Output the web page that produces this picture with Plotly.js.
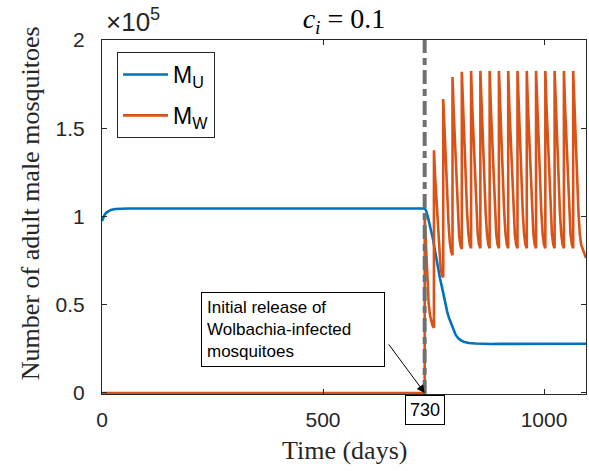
<!DOCTYPE html>
<html>
<head>
<meta charset="utf-8">
<script src="https://cdn.plot.ly/plotly-3.0.1.min.js"></script>
<style>html,body{margin:0;padding:0;background:#fff;}#chart{width:589px;height:471px;}</style>
</head>
<body>
<div id="chart"></div>
<script>
// Values in units of 10^5 mosquitoes (as the axis shows)
const releaseDay = 730;
const xTicks = [0, 500, 1000];
const yTicks = [0, 0.5, 1, 1.5, 2];
const seriesNames = ['M<sub>U</sub>', 'M<sub>W</sub>'];

const uDays = [0, 3, 6, 10, 15, 20, 30, 45, 60, 730, 733, 737, 741, 745, 749, 753, 757, 761, 765, 769, 773, 777, 781, 785, 790, 795, 800, 806, 812, 820, 830, 845, 860, 880, 900, 950, 1000, 1050, 1095];
const uValues = [0.975, 0.995, 1.010, 1.022, 1.032, 1.037, 1.042, 1.044, 1.045, 1.045, 1.035, 1.000, 0.960, 0.920, 0.870, 0.810, 0.750, 0.700, 0.646, 0.600, 0.550, 0.505, 0.460, 0.425, 0.390, 0.355, 0.330, 0.310, 0.298, 0.288, 0.283, 0.280, 0.278, 0.277, 0.278, 0.278, 0.278, 0.279, 0.279];

const wDays = [
  0, 730,
  730, 733, 736, 739, 742, 745, 748, 751,
  751, 754, 757, 760, 763, 766, 769, 772,
  772, 775, 778, 781, 784, 787, 790, 793,
  793, 796, 799, 802, 805, 808, 811, 814,
  814, 817, 820, 823, 826, 829, 832, 835,
  835, 838, 841, 844, 847, 850, 853, 856,
  856, 859, 862, 865, 868, 871, 874, 877,
  877, 880, 883, 886, 889, 892, 895, 898,
  898, 901, 904, 907, 910, 913, 916, 919,
  919, 922, 925, 928, 931, 934, 937, 940,
  940, 943, 946, 949, 952, 955, 958, 961,
  961, 964, 967, 970, 973, 976, 979, 982,
  982, 985, 988, 991, 994, 997, 1000, 1003,
  1003, 1006, 1009, 1012, 1015, 1018, 1021, 1024,
  1024, 1027, 1030, 1033, 1036, 1039, 1042, 1045,
  1045, 1048, 1051, 1054, 1057, 1060, 1063, 1066,
  1066, 1069, 1072, 1075, 1078, 1081, 1084, 1087, 1091, 1095
];
const wValues = [
  0, 0,
  1.00, 0.80, 0.63, 0.51, 0.44, 0.40, 0.38, 0.37,
  1.375, 1.21, 1.08, 0.93, 0.80, 0.71, 0.67, 0.655,
  1.665, 1.47, 1.30, 1.115, 0.96, 0.85, 0.80, 0.78,
  1.79, 1.57, 1.39, 1.18, 1.01, 0.89, 0.835, 0.815,
  1.82, 1.60, 1.41, 1.20, 1.02, 0.90, 0.84, 0.82,
  1.825, 1.60, 1.41, 1.20, 1.02, 0.90, 0.84, 0.82,
  1.825, 1.60, 1.41, 1.20, 1.02, 0.90, 0.84, 0.82,
  1.825, 1.60, 1.41, 1.20, 1.02, 0.90, 0.84, 0.82,
  1.825, 1.60, 1.41, 1.20, 1.02, 0.90, 0.84, 0.82,
  1.825, 1.60, 1.41, 1.20, 1.02, 0.90, 0.84, 0.82,
  1.825, 1.60, 1.41, 1.20, 1.02, 0.90, 0.84, 0.82,
  1.825, 1.60, 1.41, 1.20, 1.02, 0.90, 0.84, 0.82,
  1.825, 1.60, 1.41, 1.20, 1.02, 0.90, 0.84, 0.82,
  1.825, 1.60, 1.41, 1.20, 1.02, 0.90, 0.84, 0.82,
  1.825, 1.60, 1.41, 1.20, 1.02, 0.90, 0.84, 0.82,
  1.825, 1.60, 1.41, 1.20, 1.02, 0.90, 0.84, 0.82,
  1.825, 1.60, 1.41, 1.20, 1.02, 0.90, 0.84, 0.82, 0.795, 0.765
];

const axisColor = '#262626';
const sans = 'Liberation Sans, Arial, sans-serif';
const serif = 'Liberation Serif, Times New Roman, serif';

const traces = [
  {x: uDays, y: uValues, type: 'scatter', mode: 'lines', name: seriesNames[0], legendgroup: 'u',
   line: {color: '#0072BD', width: 2.6}},
  {x: wDays, y: wValues, type: 'scatter', mode: 'lines', name: seriesNames[1], legendgroup: 'w',
   line: {color: '#D95319', width: 2.6}}
];

const axisCommon = {
  showgrid: false, zeroline: false, showline: true, mirror: 'ticks',
  linecolor: axisColor, linewidth: 1, ticks: 'inside', ticklen: 5,
  tickcolor: axisColor, tickwidth: 1,
  tickfont: {family: sans, size: 21, color: axisColor}
};

const layout = {
  width: 589, height: 471,
  margin: {l: 102, r: 3, t: 40, b: 76.5, pad: 0},
  paper_bgcolor: '#fff', plot_bgcolor: '#fff',
  showlegend: true,
  xaxis: Object.assign({}, axisCommon, {range: [0, 1095], tickvals: xTicks, ticklabelstandoff: 7}),
  yaxis: Object.assign({}, axisCommon, {range: [-0.006, 2], tickvals: yTicks, ticklabelstandoff: 12}),
  legend: {x: 0.031, y: 0.966, xanchor: 'left', yanchor: 'top',
    bgcolor: '#fff', bordercolor: axisColor, borderwidth: 1, tracegroupgap: 8,
    font: {family: sans, size: 23, color: '#000'}, itemwidth: 45},
  title: {text: '<i>c</i><sub><i>i</i></sub> = 0.1', font: {family: serif, size: 28, color: '#000'},
    x: 0.5, xref: 'paper', y: 1 - 18/471, yref: 'container', xanchor: 'center', yanchor: 'middle'},
  shapes: [
    {type: 'line', xref: 'x', yref: 'paper', x0: releaseDay, x1: releaseDay, y0: 0, y1: 1,
     line: {color: '#707070', width: 4, dash: '14px,5px,7px,5px'}, layer: 'above'}
  ],
  annotations: [
    {text: '×10<sup>5</sup>', xref: 'paper', yref: 'paper', x: 0.004, y: 1, xanchor: 'left', yanchor: 'bottom',
     yshift: 1, showarrow: false, font: {family: sans, size: 26, color: axisColor}},
    {text: 'Time (days)', xref: 'paper', yref: 'paper', x: 0.5, y: -0.159, xanchor: 'center', yanchor: 'middle',
     showarrow: false, font: {family: serif, size: 26, color: axisColor}},
    {text: 'Number of adult male mosquitoes', xref: 'paper', yref: 'paper', x: -0.148, y: 0.54,
     xanchor: 'center', yanchor: 'middle', textangle: -90,
     showarrow: false, font: {family: serif, size: 26, color: axisColor}},
    {text: 'Initial release of<br>Wolbachia-infected<br>mosquitoes', xref: 'paper', yref: 'paper',
     x: 0.3946, y: 0.1834, xanchor: 'center', yanchor: 'middle', align: 'left', width: 172,
     showarrow: false, bgcolor: '#fff', bordercolor: '#000', borderwidth: 1, borderpad: 5,
     font: {family: sans, size: 17, color: '#000'}},
    {text: '', xref: 'x', yref: 'y', x: releaseDay, y: 0, ax: -37, ay: -50, axref: 'pixel', ayref: 'pixel',
     showarrow: true, arrowhead: 2, arrowsize: 1.6, arrowwidth: 1, arrowcolor: '#000', standoff: 0},
    {text: String(releaseDay), xref: 'x', yref: 'paper', x: releaseDay, y: 0, xanchor: 'center', yanchor: 'top',
     yshift: -1, showarrow: false, bgcolor: '#fff', bordercolor: '#000', borderwidth: 1, borderpad: 4,
     font: {family: sans, size: 18, color: '#000'}}
  ]
};

Plotly.newPlot('chart', traces, layout, {staticPlot: true, displayModeBar: false});
</script>
</body>
</html>
